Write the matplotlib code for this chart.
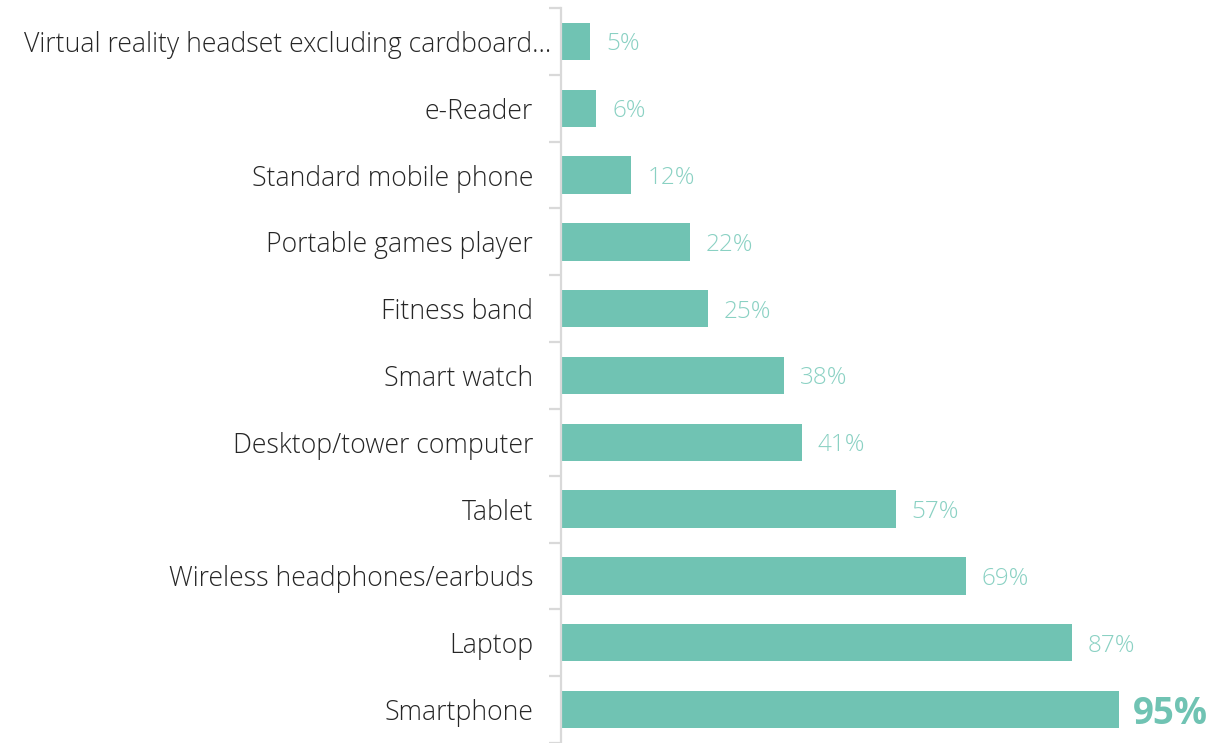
import matplotlib.pyplot as plt
import matplotlib.transforms as mtransforms
from matplotlib import font_manager

# device ownership, top to bottom
devices = [
    "Virtual reality headset excluding cardboard...",
    "e-Reader",
    "Standard mobile phone",
    "Portable games player",
    "Fitness band",
    "Smart watch",
    "Desktop/tower computer",
    "Tablet",
    "Wireless headphones/earbuds",
    "Laptop",
    "Smartphone",
]
shares = [5, 6, 12, 22, 25, 38, 41, 57, 69, 87, 95]

BAR = "#70c3b3"
LABEL = "#8ad1c3"
GRID = "#d9d9d9"

fams = {f.name for f in font_manager.fontManager.ttflist}
plt.rcParams["font.family"] = ["Open Sans", "DejaVu Sans"] if "Open Sans" in fams else ["DejaVu Sans"]

fig = plt.figure(figsize=(12.26, 7.43), dpi=100)
ax = fig.add_axes([561 / 1226, 0, (1226 - 561) / 1226, (743 - 8) / 743])

pos = list(range(len(devices)))
ax.barh(pos, shares, height=0.56, color=BAR, zorder=2)

for i, v in enumerate(shares):
    if i == len(shares) - 1:
        ax.annotate(f"{v}%", (v, i), xytext=(10, 0), textcoords="offset points",
                    va="center_baseline", ha="left", fontsize=26.5, fontweight="bold", color=BAR)
    else:
        ax.annotate(f"{v}%", (v, i), xytext=(11.5, 0), textcoords="offset points",
                    va="center_baseline", ha="left", fontsize=17.5, fontweight="light", color=LABEL)

ax.set_xlim(0, 113.3)
ax.set_ylim(10.46, -0.5)

# category labels, with tick marks sitting between the bars
ax.set_yticks(pos)
ax.set_yticklabels(devices, fontsize=19.2, fontweight="light", color="#262626",
                   va="center_baseline")
ax.tick_params(axis="y", which="major", length=0, pad=20)
ax.set_yticks([p - 0.5 for p in range(len(devices) + 1)], minor=True)
ax.tick_params(axis="y", which="minor", length=9, width=1.6, color=GRID)
ax.set_xticks([])

# the truncated label runs its ellipsis past the common right edge
first = ax.get_yticklabels()[0]
first.set_transform(first.get_transform() +
                    mtransforms.ScaledTranslation(18 / 100, 0, fig.dpi_scale_trans))

for s in ["top", "right", "bottom"]:
    ax.spines[s].set_visible(False)
ax.spines["left"].set_color(GRID)
ax.spines["left"].set_linewidth(1.6)

fig.savefig("out.png", dpi=100)
